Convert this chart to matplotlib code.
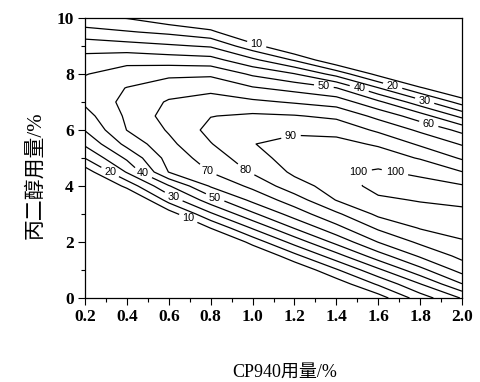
import numpy as np
import matplotlib
matplotlib.use("Agg")
import matplotlib.pyplot as plt
from matplotlib.ticker import MultipleLocator

# ---- data ----
cp940 = [0.2, 0.4, 0.6, 0.8, 1.0, 1.2, 1.4, 1.6, 1.8, 2.0]
glycol = [0.0, 0.5, 1.0, 1.5, 2.0, 2.5, 3.0, 3.5, 4.0, 4.5, 5.0,
          5.5, 6.0, 6.5, 7.0, 7.5, 8.0, 8.5, 9.0, 9.5, 10.0]
# response values, one row per glycol level (columns follow cp940)
response = [
    [-60, -60, -60, -60, -54, -31, -11, 5.2, 25, 40.8],
    [-60, -60, -60, -60, -37, -15, 4, 21.5, 39.7, 59.7],
    [-60, -60, -60, -47, -20, 0.7, 18.8, 37.9, 56.9, 73.8],
    [-60, -60, -52, -28, -3, 16.8, 35.9, 55.5, 71.3, 82.7],
    [-60, -60, -33, -9, 13.8, 33.8, 53, 70.3, 82, 89.1],
    [-56, -44, -14, 10.3, 31, 50.6, 66.9, 81.6, 90.6, 93.6],
    [-42, -25, 4.7, 28.3, 48.1, 64.6, 78.2, 92.2, 95.7, 97.9],
    [-27, -6, 24, 45.5, 62.5, 75.2, 90.4, 98.2, 100.7, 102],
    [-11, 13.1, 39.2, 61.1, 72.4, 86.1, 94.2, 103.5, 104.8, 101],
    [4.4, 30.9, 60.3, 70.3, 81.2, 91.9, 98.3, 101.5, 97.3, 90.3],
    [20.3, 41.8, 63.8, 74.8, 85.8, 94.8, 98, 94.7, 89.3, 78.7],
    [31.8, 52.9, 67.6, 79.5, 89.7, 93.3, 92.7, 88.9, 78.4, 69.1],
    [40.5, 60.2, 71, 83, 86, 88, 87.3, 78.1, 68.2, 57.2],
    [46.3, 61.7, 74, 79.7, 81.7, 80.7, 77.8, 67.2, 54.6, 37.2],
    [51.7, 63, 71, 74, 72, 69, 65.7, 52.1, 34.2, 15.6],
    [54.1, 60.3, 65.6, 67.5, 61, 56.6, 50.4, 30.5, 11.3, -4],
    [49.5, 54.8, 57.8, 58.2, 48.4, 40.5, 26.3, 6.9, -10, -24],
    [43.5, 46.8, 45.2, 43.8, 32.2, 19.1, 1, -15, -32, -44],
    [35.8, 33.9, 31.5, 28.9, 13.9, -2.5, -24, -38, -55, -60],
    [24, 20.8, 17.8, 12.8, -5, -23, -45, -60, -60, -60],
    [12.2, 9.6, 3, -5, -20, -44, -60, -60, -60, -60],
]
levels = [10, 20, 30, 40, 50, 60, 70, 80, 90, 100]
x_ticks = [0.2, 0.4, 0.6, 0.8, 1.0, 1.2, 1.4, 1.6, 1.8, 2.0]
y_ticks = [0, 2, 4, 6, 8, 10]
x_label = "CP940用量/%"
y_label = "丙二醇用量/%"

# label placement hints (layout only)
label_spots = [(1.02, 9.07), (1.67, 7.61), (1.82, 7.0), (1.51, 7.5),
               (1.34, 7.54), (1.84, 6.18), (1.18, 5.89), (1.68, 4.5),
               (1.50, 4.5), (0.32, 4.5), (0.48, 4.5), (0.78, 4.5),
               (0.96, 4.5), (0.62, 3.57), (0.82, 3.57), (0.69, 2.79)]

fig = plt.figure(figsize=(4.8, 3.82), dpi=100)
ax = fig.add_axes([85 / 480, 1 - 298 / 382, 377 / 480, 280 / 382])

X, Y = np.meshgrid(cp940, glycol)
Z = np.array(response)
cs = ax.contour(X, Y, Z, levels=levels, colors="k", linewidths=0.9)
labels = ax.clabel(cs, fmt="%d", fontsize=7.8, inline=True, inline_spacing=3,
                   manual=label_spots)
for t in labels:
    t.set_rotation(0)
    t.set_family("Liberation Sans")

ax.set_xlim(0.2, 2.0)
ax.set_ylim(0, 10)
ax.set_xticks(x_ticks)
ax.set_yticks(y_ticks)
ax.xaxis.set_minor_locator(MultipleLocator(0.1))
ax.yaxis.set_minor_locator(MultipleLocator(1))
ax.set_xticklabels([f"{v:.1f}" for v in x_ticks])
ax.set_yticklabels([str(v) for v in y_ticks])
ax.tick_params(which="both", direction="out", top=False, right=False, width=0.8)
ax.tick_params(which="major", length=5, pad=3)
ax.tick_params(which="minor", length=3)
for lab in ax.get_xticklabels() + ax.get_yticklabels():
    lab.set_family("Liberation Serif")
    lab.set_fontweight("bold")
    lab.set_fontsize(12.5)
for sp in ax.spines.values():
    sp.set_linewidth(0.9)

ax.set_xlabel(x_label, family=["Liberation Serif", "Noto Sans CJK SC"], fontsize=13)
ax.xaxis.set_label_coords(0.53, -0.235)
ax.set_ylabel(y_label, family=["Liberation Serif", "Noto Sans CJK SC"], fontsize=15)
ax.yaxis.set_label_coords(-0.105, 0.44)

fig.savefig("out.png", dpi=100)
